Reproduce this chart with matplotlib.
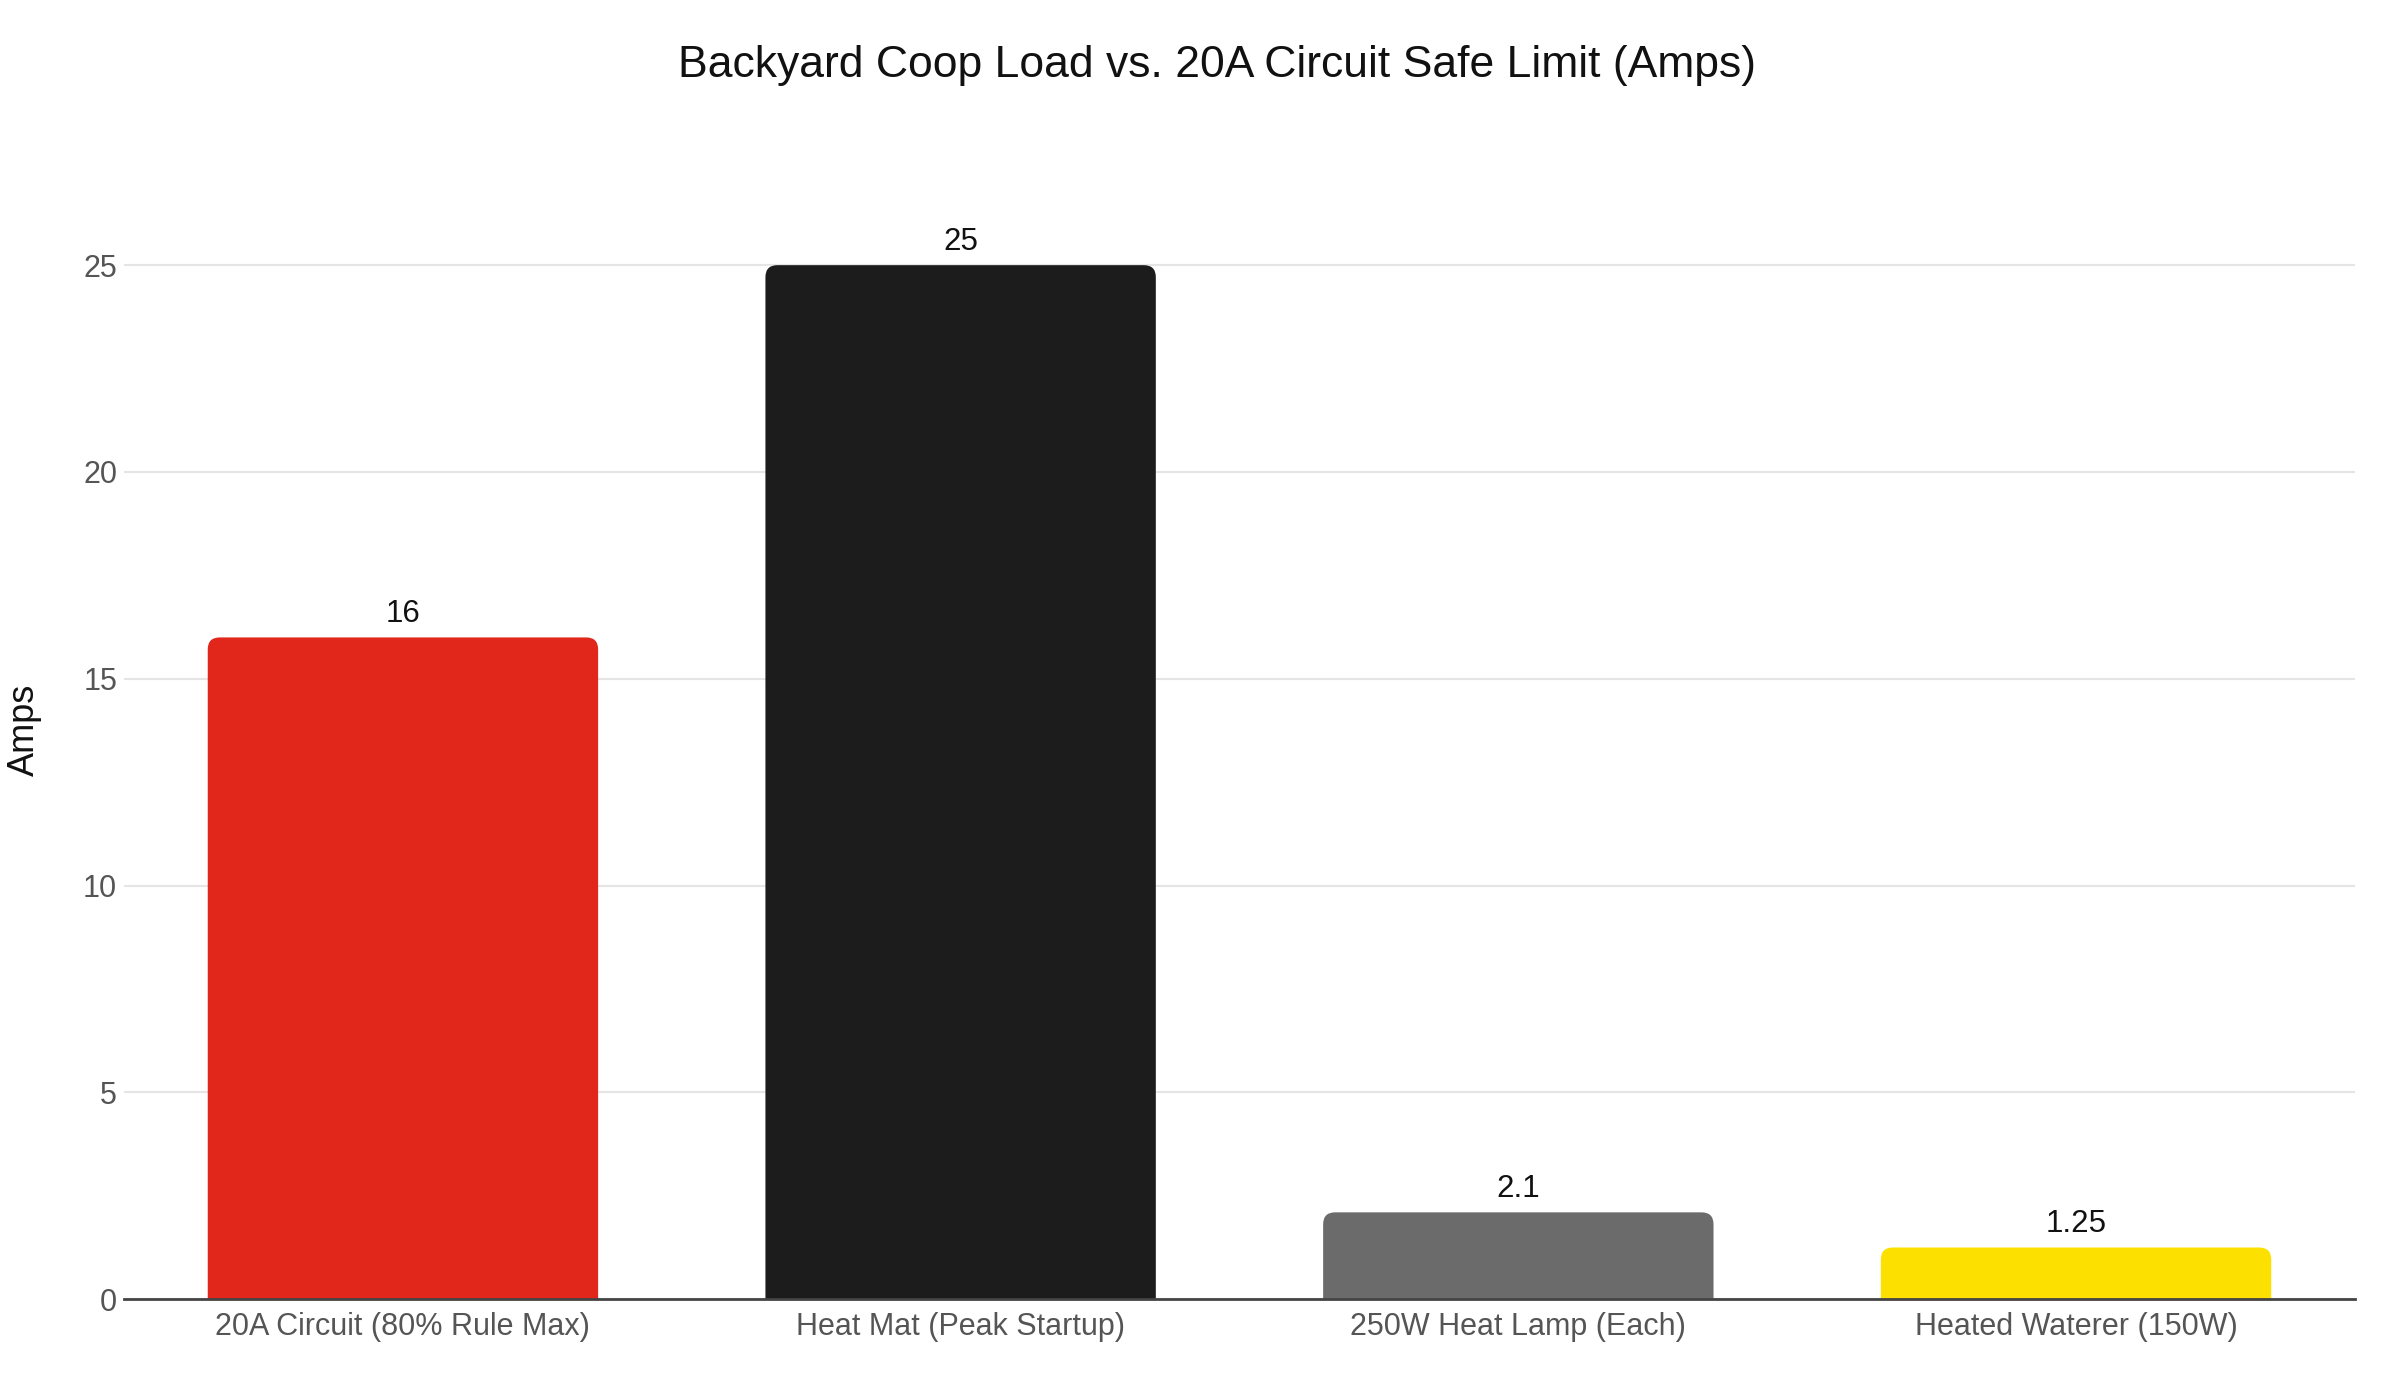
import matplotlib.pyplot as plt
from matplotlib.patches import FancyBboxPatch

plt.rcParams['font.family'] = ['Liberation Sans', 'DejaVu Sans']

# chart data
categories = ['20A Circuit (80% Rule Max)', 'Heat Mat (Peak Startup)',
              '250W Heat Lamp (Each)', 'Heated Waterer (150W)']
amps = [16, 25, 2.1, 1.25]
value_labels = ['16', '25', '2.1', '1.25']
bar_colors = ['#E1261C', '#1C1C1C', '#6B6B6B', '#FCE000']
y_ticks = [0, 5, 10, 15, 20, 25]

fig = plt.figure(figsize=(24, 14), dpi=100)
ax = fig.add_axes([0.0517, 0.072, 0.9295, 0.777])

ax.set_xlim(-0.5, len(categories) - 0.5)
ax.set_ylim(0, 26.3)

# plain bars first, then swap them for round-topped patches
bars = ax.bar(range(len(categories)), amps, width=0.7, color=bar_colors)
fig.canvas.draw()
inv = ax.transData.inverted()
p0 = inv.transform((0, 0))
p1 = inv.transform((1, 1))
dx, dy = p1[0] - p0[0], p1[1] - p0[1]
r_px = 12
for b, col in zip(bars, bar_colors):
    b.set_visible(False)
    x, w, h = b.get_x(), b.get_width(), b.get_height()
    ext = r_px * dy
    patch = FancyBboxPatch((x, -ext), w, h + ext,
                           boxstyle=f'round,pad=0,rounding_size={r_px * dx}',
                           mutation_aspect=dy / dx,
                           facecolor=col, edgecolor='none', zorder=2)
    ax.add_patch(patch)

for i, (v, lab) in enumerate(zip(amps, value_labels)):
    ax.annotate(lab, (i, v), xytext=(0, 6), textcoords='offset points',
                ha='center', va='bottom', fontsize=22.5, color='#111111')

ax.set_yticks(y_ticks)
ax.set_xticks(range(len(categories)))
ax.set_xticklabels(categories)
ax.tick_params(axis='both', length=0, labelsize=22, labelcolor='#555555')
ax.tick_params(axis='y', pad=5)
ax.tick_params(axis='x', pad=9)
ax.grid(axis='y', color='#E5E5E5', linewidth=1.5, zorder=0)
ax.set_axisbelow(True)
for s in ['top', 'right', 'left']:
    ax.spines[s].set_visible(False)
ax.spines['bottom'].set_color('#444444')
ax.spines['bottom'].set_linewidth(2)
ax.spines['bottom'].set_zorder(3)

fig.text(0.010, 0.479, 'Amps', rotation=90, ha='center', va='center',
         fontsize=26, color='#111111')
fig.text(0.507, 0.953, 'Backyard Coop Load vs. 20A Circuit Safe Limit (Amps)',
         ha='center', va='center', fontsize=32, color='#111111')

fig.savefig('out.png', dpi=100, facecolor='white')
